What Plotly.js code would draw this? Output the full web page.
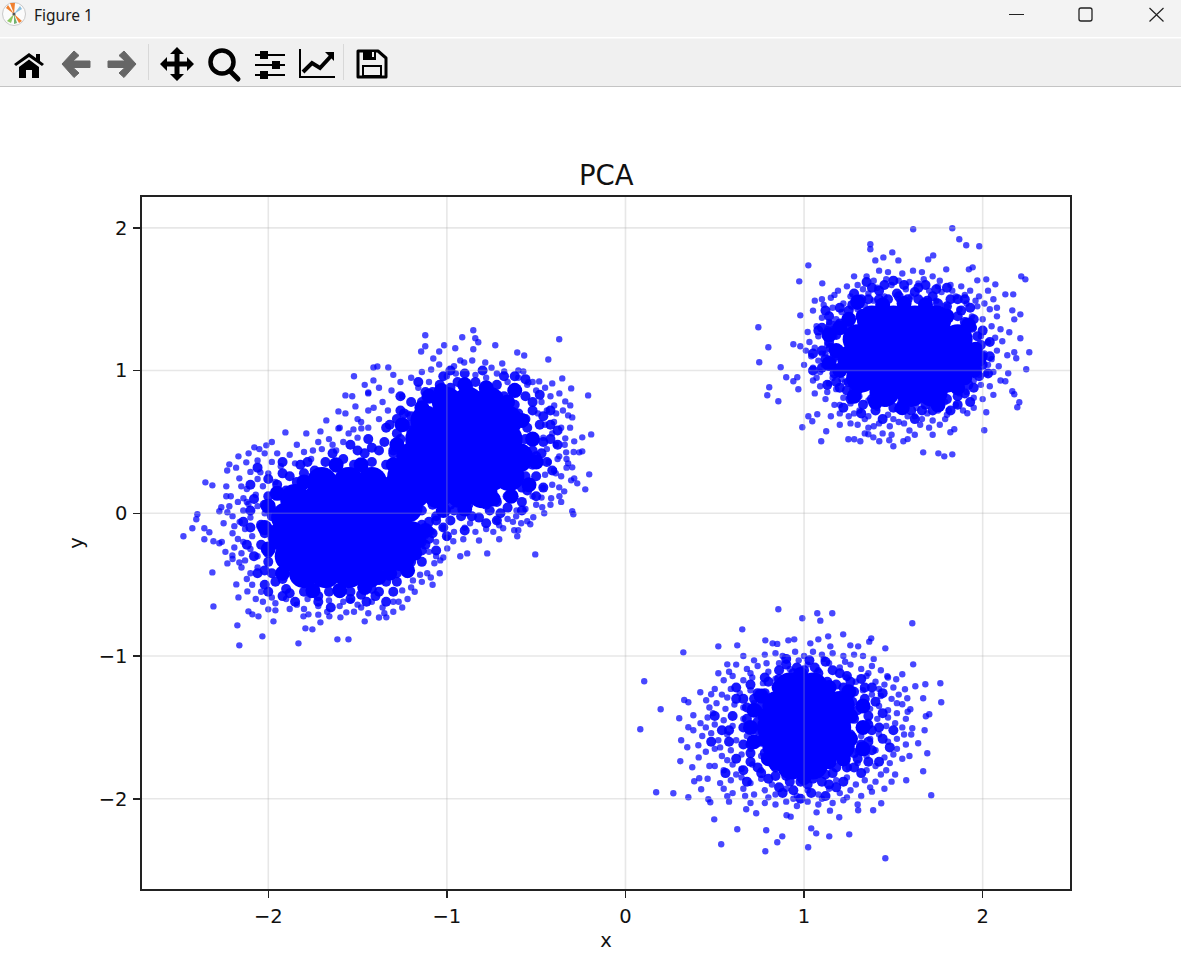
<!DOCTYPE html>
<html><head><meta charset="utf-8">
<script src="https://cdn.plot.ly/plotly-3.0.1.min.js"></script>
<style>
html,body{margin:0;padding:0;background:#fff;overflow:hidden}
#chart{position:absolute;left:0;top:0;width:1181px;height:980px}
#chrome{position:absolute;left:0;top:0;width:1181px;height:87px;z-index:5}
</style></head><body>
<div id="chart"></div>
<svg id="chrome" width="1181" height="87" viewBox="0 0 1181 87">
<rect x="0" y="0" width="1181" height="37" fill="#f3f3f3"/>
<rect x="0" y="37" width="1181" height="1.5" fill="#ffffff"/>
<rect x="0" y="38.5" width="1181" height="47.5" fill="#f0f0f0"/>
<rect x="0" y="86" width="1181" height="1" fill="#c4c4c4"/>
<circle cx="14" cy="14" r="11.5" fill="#fbfbfb" stroke="#c9c9c9"/>
<path d="M14 14L6 8L8 5ZM14 14L22 21L19 23ZM14 14L10 3L15 3Z" fill="#f08030"/><path d="M14 14L7 21L11 23Z" fill="#8cc860"/><path d="M14 14L22 9L20 6Z" fill="#8cc0e0"/><path d="M14 14L14 24L17 23Z" fill="#70b070"/><circle cx="14" cy="14" r="1.6" fill="#555"/>
<text x="34" y="21" font-family="Noto Sans, Open Sans, sans-serif" font-size="15.5" fill="#1a1a1a">Figure 1</text>
<path d="M1009 14.5H1024" stroke="#222" stroke-width="1"/>
<rect x="1079" y="8" width="13" height="13" rx="2" fill="none" stroke="#222" stroke-width="1.3"/>
<path d="M1149.5 8L1163.5 21.5M1163.5 8L1149.5 21.5" stroke="#222" stroke-width="1.2"/>
<path d="M14 64L29 53L36 58V54H40V61L44 64L42 66L29 57L16 66ZM19 67L29 59.5L39 67V78H32V70H26V78H19Z" fill="#000"/>
<path d="M62 64L74 51L79 55.5L73 61H90V67.5H73L79 73L74 77.5Z" fill="#666" stroke="#666" stroke-linejoin="round" stroke-width="1"/>
<path d="M136 64L124 51L119 55.5L125 61H108V67.5H125L119 73L124 77.5Z" fill="#666" stroke="#666" stroke-linejoin="round" stroke-width="1"/>
<rect x="148" y="44" width="1" height="36" fill="#d8d8d8"/>
<path d="M177 47L184 54H179.5V61.5H187V57L194 64L187 71V66.5H179.5V74H184L177 81L170 74H174.5V66.5H167V71L160 64L167 57V61.5H174.5V54H170Z" fill="#000"/>
<circle cx="222" cy="62" r="11.5" fill="none" stroke="#000" stroke-width="4.5"/><path d="M230 71L238 79" stroke="#000" stroke-width="5" stroke-linecap="round"/>
<path d="M255 55H285M255 65H285M255 75H285" stroke="#000" stroke-width="2"/><rect x="260" y="51" width="8" height="8" fill="#000"/><rect x="272" y="61" width="8" height="8" fill="#000"/><rect x="260" y="71" width="8" height="8" fill="#000"/>
<path d="M300 49V77H335" fill="none" stroke="#000" stroke-width="2"/><path d="M303 72L312 63L320 68L332 55" fill="none" stroke="#000" stroke-width="4"/><path d="M325 52H334V61Z" fill="#000"/>
<rect x="343" y="44" width="1" height="36" fill="#d8d8d8"/>
<path d="M360 51H378L386 58V77H358V51Z" fill="none" stroke="#000" stroke-width="3" stroke-linejoin="round"/><rect x="363" y="51" width="13" height="9" fill="#000"/><rect x="372" y="52" width="2" height="5" fill="#f0f0f0"/><rect x="363" y="66" width="18" height="10" fill="none" stroke="#000" stroke-width="2"/>
</svg>
<script>
var xTicks=[-2,-1,0,1,2];
var yTicks=[-2,-1,0,1,2];
var titleText="PCA";
var xLabel="x";
var yLabel="y";

var clusterTopRight=[[1.611,1.99],[1.83,1.997],[1.869,1.92],[1.908,1.878],[1.981,1.871],[1.371,1.885],[1.371,1.85],[1.494,1.828],[1.444,1.793],[1.399,1.772],[1.528,1.772],[1.723,1.807],[1.695,1.779],[1.024,1.737],[1.944,1.723],[1.923,1.709],[1.796,1.709],[2.216,1.66],[2.239,1.639],[.973,1.625],[1.102,1.611],[2.02,1.639],[1.97,1.632],[2.071,1.604],[2.127,1.534],[2.171,1.534],[.744,1.303],[.979,1.387],[2.211,1.394],[2.177,1.359],[2.166,1.422],[.8,1.163],[.94,1.184],[.979,1.17],[.749,1.058],[.869,1.023],[.9,.953],[.94,.925],[.962,.953],[.805,.883],[.794,.827],[.856,.785],[.968,.869],[2.211,1.226],[2.261,1.128],[2.177,1.128],[2.188,1.086],[2.244,1.009],[2.138,1.107],[2.149,1.268],[2.11,1.205],[2.143,.981],[2.127,.925],[2.166,.855],[2.177,.834],[2.205,.778],[2.194,.743],[2.02,.708],[2.009,.582],[1.914,.701],[1.841,.589],[1.819,.568],[.99,.603],[1.124,.575],[1.096,.505],[1.248,.519],[1.281,.519],[1.315,.505],[1.36,.554],[1.388,.532],[1.421,.505],[1.477,.512],[1.5,.47],[1.556,.505],[1.667,.427],[1.752,.42],[1.785,.399],[1.83,.413],[1.024,.68],[1.046,.645],[1.074,.694],
[1.06,1.49],[1.1,1.5],[1.15,1.51],[1.19,1.56],[1.24,1.59],[1.3,1.6],[1.28,1.66],[1.35,1.66],[1.42,1.7],[1.47,1.69],[1.55,1.68],[1.61,1.7],[1.66,1.69],[1.72,1.66],[1.76,1.63],[1.82,1.6],[1.88,1.59],[1.93,1.56],[1.98,1.52],[2.03,1.56],[2.06,1.5],[1.16,1.44],[1.22,1.47],[1.29,1.5],[1.36,1.54],[1.41,1.58],[1.49,1.6],[1.57,1.57],[1.64,1.61],[1.7,1.56],[1.77,1.55],[1.85,1.52],[1.91,1.47],[1.97,1.45],[2.04,1.43],[2.08,1.38],[1.05,1.42],[1.1,1.37],[1.07,1.31],[1.13,1.29],[1.18,1.36],[1.21,1.41],[1.26,1.35],[1.3,1.43],[1.34,1.46],[1.39,1.49],[1.45,1.52],[1.53,1.5],[1.6,1.52],[1.67,1.48],[1.74,1.49],[1.8,1.45],[1.87,1.43],[1.94,1.38],[2.0,1.36],[2.05,1.31],[2.1,1.29],[1.03,1.2],[1.06,1.16],[1.08,1.24],[1.13,1.18],[1.17,1.24],[1.21,1.29],[1.25,1.23],[1.95,1.3],[1.99,1.24],[2.03,1.2],[2.07,1.23],[1.92,1.22],[1.96,1.16],[2.01,1.12],[2.05,1.08],[1.04,1.1],[1.08,1.07],[1.12,1.12],[1.17,1.08],[1.2,1.15],[1.24,1.1],[1.0,1.04],[1.05,1.02],[1.09,.99],[1.14,1.02],[1.19,.98],[1.23,1.03],[1.93,1.07],[1.97,1.03],[2.02,.98],[2.06,.99],[1.9,.98],[1.95,.93],[1.99,.9],[2.04,.89],[1.05,.93],[1.09,.89],[1.14,.91],[1.18,.87],[1.23,.92],[1.27,.87],[1.86,.9],[1.91,.85],[1.95,.81],[2.0,.8],[1.12,.8],[1.17,.76],[1.22,.81],[1.26,.77],[1.31,.82],[1.36,.79],[1.41,.83],[1.47,.8],[1.52,.84],[1.58,.81],[1.63,.84],[1.68,.8],[1.74,.83],[1.79,.78],[1.85,.76],[1.89,.72],[1.2,.7],[1.25,.68],[1.31,.72],[1.36,.68],[1.41,.74],[1.47,.69],[1.52,.73],[1.58,.68],[1.63,.74],[1.69,.7],[1.75,.72],[1.8,.69],[1.3,.62],[1.36,.6],[1.42,.63],[1.48,.61],[1.53,.64],[1.59,.58],[1.65,.62],[1.7,.6],[1.76,.62],[1.2,.62],[1.15,.68],[1.44,.56],[1.58,.52],[1.72,.55],
[1.11,1.46],[1.17,1.53],[1.26,1.52],[1.33,1.57],[1.39,1.63],[1.46,1.64],[1.53,1.63],[1.59,1.62],[1.67,1.64],[1.75,1.59],[1.83,1.56],[1.9,1.53],[1.96,1.49],[2.01,1.47],[2.08,1.44],[1.14,1.34],[1.16,1.29],[1.02,1.27],[1.1,1.12],[1.01,1.14],[1.07,.95],[1.11,1.04],[1.16,.95],[1.21,.94],[1.98,.97],[2.03,1.04],[2.08,1.14],[2.09,1.03],[1.06,.84],[1.13,.85],[1.2,.76],[1.28,.7],[1.34,.66],[1.39,.61],[1.5,.66],[1.56,.63],[1.62,.68],[1.66,.66],[1.72,.65],[1.81,.72],[1.87,.84],[1.95,.74],[2.06,.83],[2.1,.93],[1.26,.63],[1.34,.56],[1.49,.55],[1.62,.55],[1.79,.66]];

var clusterBottomRight=[[.856,-.672],[.99,-.735],[1.074,-.7],[1.158,-.7],[1.091,-.752],[1.606,-.77],[.654,-.813],[.52,-.932],[.324,-.974],[.626,-.925],[.783,-.89],[.912,-.89],[.945,-.883],[1.08,-.883],[1.135,-.862],[1.219,-.848],[1.376,-.876],[1.365,-.899],[1.455,-.946],[1.303,-.932],[1.259,-.925],[1.147,-.932],[1.035,-.911],[.824,-.911],[.85,-.915],[.57,-1.058],[1.611,-1.058],[.105,-1.177],[.52,-1.12],[1.55,-1.128],[1.516,-1.163],[1.466,-1.142],[1.763,-1.191],[1.679,-1.198],[1.623,-1.212],[1.565,-1.233],[.419,-1.254],[.48,-1.268],[1.667,-1.296],[1.768,-1.324],[1.578,-1.296],[.329,-1.308],[.352,-1.324],[.197,-1.373],[.452,-1.31],[1.682,-1.422],[1.701,-1.408],[1.595,-1.373],[1.55,-1.338],[.301,-1.436],[.38,-1.415],[.083,-1.513],[.352,-1.499],[1.675,-1.52],[1.606,-1.506],[.312,-1.59],[.346,-1.639],[.408,-1.625],[1.639,-1.611],[1.69,-1.681],[.307,-1.737],[.374,-1.779],[1.667,-1.807],[1.572,-1.87],[.385,-1.877],[.413,-1.856],[.424,-1.933],[.172,-1.954],[.268,-1.961],[.352,-1.989],[.464,-2.003],[.475,-2.024],[1.712,-1.975],[1.432,-2.031],[.57,-1.982],[.676,-2.073],[.732,-2.101],[.497,-2.144],[.626,-2.213],[.788,-2.22],[1.04,-2.207],[1.068,-2.242],[1.141,-2.263],[1.253,-2.249],[1.197,-2.129],[.878,-2.263],[.85,-2.305],[.536,-2.319],[.783,-2.368],[1.023,-2.34],[1.455,-2.417],[1.387,-2.08],[1.303,-2.08],[1.145,-2.083],[1.07,-2.095],[.902,-2.115],[.925,-2.125],
[.66,-1.0],[.72,-1.03],[.78,-.99],[.84,-.98],[.88,-1.0],[.95,-.97],[1.0,-1.0],[1.05,-.97],[1.1,-.99],[1.16,-.98],[1.22,-1.0],[1.28,-.99],[1.33,-1.0],[1.39,-1.02],[.62,-1.06],[.68,-1.09],[.74,-1.07],[.8,-1.11],[.86,-1.05],[.92,-1.09],[1.02,-1.06],[1.08,-1.1],[1.14,-1.05],[1.2,-1.08],[1.26,-1.06],[1.32,-1.09],[1.38,-1.07],[1.43,-1.1],[.55,-1.17],[.6,-1.14],[.66,-1.17],[.71,-1.15],[.77,-1.19],[.84,-1.16],[1.24,-1.15],[1.29,-1.18],[1.35,-1.14],[1.4,-1.18],[1.45,-1.2],[1.5,-1.22],[.5,-1.23],[.54,-1.27],[.59,-1.23],[.64,-1.26],[.7,-1.24],[.76,-1.27],[1.27,-1.25],[1.33,-1.24],[1.38,-1.27],[1.43,-1.28],[1.49,-1.3],[1.53,-1.27],[.47,-1.36],[.51,-1.33],[.56,-1.37],[.61,-1.34],[.66,-1.36],[.72,-1.33],[1.33,-1.34],[1.37,-1.37],[1.42,-1.35],[1.47,-1.38],[1.52,-1.4],[1.57,-1.44],[.42,-1.47],[.46,-1.43],[.5,-1.48],[.55,-1.45],[.6,-1.49],[.66,-1.44],[.71,-1.48],[1.36,-1.46],[1.41,-1.44],[1.46,-1.49],[1.51,-1.47],[1.55,-1.5],[1.6,-1.55],[.43,-1.56],[.48,-1.54],[.52,-1.59],[.57,-1.55],[.62,-1.59],[.68,-1.56],[.74,-1.6],[1.32,-1.56],[1.37,-1.58],[1.42,-1.55],[1.47,-1.6],[1.52,-1.58],[1.57,-1.62],[.45,-1.67],[.5,-1.65],[.54,-1.7],[.59,-1.66],[.65,-1.69],[.7,-1.65],[.76,-1.7],[1.3,-1.67],[1.35,-1.7],[1.4,-1.66],[1.45,-1.71],[1.5,-1.69],[1.55,-1.72],[.5,-1.77],[.55,-1.8],[.6,-1.76],[.65,-1.79],[.71,-1.76],[.76,-1.8],[1.25,-1.78],[1.3,-1.75],[1.35,-1.8],[1.4,-1.77],[1.46,-1.8],[1.51,-1.83],[.46,-1.86],[.53,-1.89],[.59,-1.87],[.65,-1.85],[.7,-1.89],[.76,-1.86],[.82,-1.9],[1.18,-1.87],[1.24,-1.85],[1.29,-1.9],[1.34,-1.87],[1.4,-1.88],[1.45,-1.93],[.6,-1.96],[.66,-1.93],[.72,-1.97],[.78,-1.94],[.84,-1.97],[.9,-1.93],[.96,-1.98],[1.02,-1.94],[1.08,-1.97],[1.14,-1.93],[1.2,-1.96],[1.26,-1.94],[1.32,-1.98],[1.38,-1.95],[.58,-2.02],[.7,-2.03],[.78,-2.03],[.84,-2.04],[.9,-2.02],[.96,-2.05],[1.02,-2.02],[1.08,-2.04],[1.16,-2.03],[1.22,-2.01],[1.3,-2.04],
[.58,-1.11],[.7,-1.12],[.79,-1.05],[.97,-1.03],[1.11,-1.02],[1.23,-1.04],[1.36,-1.12],[1.47,-1.15],[1.42,-1.23],[1.52,-1.33],[1.58,-1.39],[1.47,-1.43],[1.56,-1.55],[1.52,-1.65],[1.59,-1.7],[1.48,-1.75],[1.43,-1.83],[1.49,-1.88],[1.37,-1.92],[1.24,-1.99],[1.1,-2.0],[.94,-2.0],[.8,-1.99],[.67,-1.98],[.55,-1.93],[.47,-1.77],[.41,-1.71],[.38,-1.52],[.45,-1.5],[.49,-1.4],[.57,-1.29],[.53,-1.64],[.57,-1.73],[.62,-1.83]];

var clusterLower=[[-2.475,-.161],[-2.425,-.105],[-2.397,-.007],[-2.403,-.042],[-2.358,-.105],[-2.358,-.182],[-2.33,-.133],[-2.352,.217],[-2.313,.196],[-2.218,.343],[-2.167,.399],[-2.235,.189],[-2.235,.119],[-2.263,.042],[-2.274,.014],[-2.218,.049],[-2.229,.007],[-2.123,.357],[-2.078,.462],[-2.011,.476],[-2.044,.287],[-2.162,.245],[-2.151,.189],[-2.139,.105],[-2.111,.065],[-2.307,-.196],[-2.274,-.21],[-2.313,-.414],[-2.229,-.351],[-2.162,-.344],[-2.201,-.295],[-2.307,-.652],[-2.179,-.498],[-2.167,-.589],[-2.117,-.547],[-2.111,-.687],[-2.089,-.708],[-2.055,-.722],[-2.0,-.673],[-1.96,-.68],[-1.971,-.757],[-2.173,-.785],[-2.033,-.862],[-2.162,-.925],[-1.831,-.911],[-1.792,-.806],[-1.753,-.813],[-1.708,-.764],[-1.613,-.883],[-1.551,-.883],[-1.658,-.722],[-1.596,-.729],[-1.563,-.694],[-1.46,-.757],[-1.339,-.729],[-1.803,-.722],[-1.775,-.708],[-1.904,.567],[-1.787,.56],[-1.708,.574],[-1.675,.651],[-1.607,.714],[-1.568,.826],[-1.512,.749],[-1.44,.847],[-1.411,1.022],[-1.389,1.029],[-1.328,1.022],[-1.411,.931],[-1.568,.7],[-1.607,.595],[-1.523,.588],[-1.479,.595],
[-2.11,.42],[-2.06,.37],[-2.02,.42],[-1.98,.36],[-1.95,.42],[-1.88,.41],[-1.85,.35],[-1.8,.43],[-1.76,.38],[-1.7,.45],[-1.64,.48],[-1.58,.5],[-1.5,.53],[-1.44,.6],[-1.38,.66],[-1.44,.72],[-1.36,.78],[-1.31,.86],[-1.5,.66],[-2.1,.29],[-2.06,.24],[-2.0,.28],[-1.96,.22],[-2.12,.17],[-2.07,.13],[-2.03,.19],[-2.2,-.02],[-2.16,-.06],[-2.14,.02],[-2.1,-.03],[-2.06,.05],[-2.02,.0],[-2.2,-.14],[-2.17,-.18],[-2.13,-.11],[-2.09,-.16],[-2.05,-.09],[-2.24,-.27],[-2.19,-.24],[-2.15,-.28],[-2.1,-.25],[-2.06,-.3],[-2.15,-.38],[-2.1,-.42],[-2.06,-.38],[-2.09,-.5],[-2.04,-.55],[-2.03,-.62],[-1.96,-.63],[-1.9,-.6],[-1.84,-.64],[-1.78,-.6],[-1.72,-.65],[-1.66,-.61],[-1.6,-.65],[-1.54,-.61],[-1.48,-.66],[-1.42,-.62],[-1.36,-.66],[-1.3,-.62],[-1.25,-.66],[-1.8,-.67],[-1.72,-.71],[-1.52,-.69],[-1.44,-.7],[-1.38,-.73],[-1.3,-.69],[-1.22,-.6],[-1.18,-.55],[-1.14,-.48],[-1.11,-.42],[-1.25,-.54],[-1.19,-.47],[-1.08,-.5],[-1.04,-.42],[-1.07,-.35],[-1.02,-.31],[-1.52,.96],[-1.46,.9],[-1.38,.88],[-1.3,.97],[-1.26,.92],[-1.25,.82],[-1.22,.7],[-1.18,.62],[-1.44,.84],[-1.53,.82],[-1.6,.6],[-1.66,.52],[-1.72,.5],[-1.84,.48],[-1.98,.5],
[-2.23,.3],[-2.18,.32],[-2.05,.45],[-1.93,.33],[-1.75,.44],[-1.62,.44],[-1.55,.56],[-1.48,.64],[-1.41,.74],[-1.33,.72],[-2.21,.12],[-2.17,.08],[-2.12,.08],[-2.25,-.07],[-2.19,-.09],[-2.14,-.2],[-2.26,-.2],[-2.2,-.32],[-2.13,-.33],[-2.12,-.46],[-2.07,-.6],[-1.98,-.59],[-1.88,-.67],[-1.67,-.69],[-1.58,-.62],[-1.5,-.64],[-1.35,-.7],[-1.27,-.62],[-1.2,-.52],[-1.15,-.43],[-1.09,-.45]];

var clusterUpper=[[-.852,1.282],[-1.121,1.247],[-.914,1.233],[-.841,1.226],[-.371,1.219],[-.824,1.198],[-.729,1.177],[-1.015,1.177],[-1.121,1.17],[-.953,1.156],[-1.144,1.134],[-.852,1.149],[-1.043,1.134],[-.606,1.127],[-.567,1.106],[-1.076,1.085],[-.432,1.078],[-.925,1.071],[-.903,1.057],[-.858,1.071],[-.785,1.057],[-.69,1.05],[-1.043,1.043],[-1.088,1.008],[-.572,.994],[-.679,.994],[-.354,.945],[-.483,.924],[-.544,.917],[-.304,.875],[-.209,.826],[-.337,.784],[-.309,.756],[-.399,.756],[-.321,.686],[-.298,.672],[-.388,.7],[-.192,.553],[-.242,.532],[-.287,.504],[-.337,.525],[-.332,.427],[-.259,.427],[-.242,.434],[-.371,.399],[-.203,.273],[-.298,.322],[-.321,.35],[-.287,.245],[-.304,.231],[-.27,.21],[-.225,.168],[-.343,.154],[-.416,.105],[-.371,.182],[-.466,.042],[-.455,.0],[-.298,.014],[-.292,-.007],[-.516,-.028],[-.55,-.056],[-.584,-.07],[-.533,-.077],[-.612,-.021],[-.685,-.105],[-.707,-.084],[-.623,-.119],[-.6,-.119],[-.606,-.161],[-.707,-.182],[-.908,-.182],[-.964,-.196],[-.998,-.246],[-.886,-.281],[-.774,-.281],[-.925,-.301],[-.505,-.288],[-1.037,-.33],
[-1.0,.96],[-.95,.98],[-.9,.93],[-.84,.97],[-.78,.95],[-.72,.98],[-.66,.92],[-.6,.95],[-.55,.9],[-.5,.86],[-.45,.88],[-1.1,.92],[-.47,.78],[-.42,.82],[-.44,.72],[-.49,.7],[-.4,.64],[-.45,.62],[-.36,.6],[-.41,.56],[-.46,.53],[-.34,.48],[-.39,.48],[-.44,.45],[-.38,.38],[-.43,.36],[-.4,.3],[-.45,.27],[-.36,.26],[-.41,.2],[-.46,.18],[-.47,.11],[-.52,.12],[-.56,.03],[-.61,.02],[-.66,-.04],[-.72,-.05],[-.78,-.11],[-.84,-.13],[-.9,-.1],[-.96,-.13],[-1.02,-.1],[-1.08,-.13],[-1.0,-.17],[-1.06,-.2],[-1.12,-.16],[-1.16,-.23],[-1.1,-.27],[-1.06,-.3],[-1.18,-.11],
[-.35,.72],[-.31,.6],[-.29,.43],[-.33,.32],[-.37,.12],[-.42,.06],[-.5,.06],[-.63,-.06],[-.74,-.13],[-.82,-.19],[-.87,-.07],[-.52,.92],[-.41,.91],[-.6,1.0],[-.75,1.02],[-.96,1.03],[-1.14,.99],[-1.2,.95],[-1.16,.88],[-.37,.84],[-.33,.38],[-.39,.28],[-.36,.08]];

var denseCores=[[1.38,1.35],[1.5,1.35],[1.62,1.35],[1.74,1.35],[1.3,1.22],[1.42,1.22],[1.54,1.22],[1.66,1.22],[1.78,1.22],[1.86,1.22],[1.27,1.08],[1.4,1.08],[1.52,1.08],[1.64,1.08],[1.76,1.08],[1.87,1.08],[1.32,.95],[1.44,.95],[1.56,.95],[1.68,.95],[1.8,.95],[1.45,.85],[1.6,.85],[1.72,.85],
[.92,-1.22],[1.05,-1.22],[.85,-1.35],[.97,-1.35],[1.1,-1.35],[1.2,-1.35],[.82,-1.5],[.94,-1.5],[1.06,-1.5],[1.18,-1.5],[.85,-1.63],[.97,-1.63],[1.1,-1.63],[1.2,-1.63],[.93,-1.76],[1.05,-1.76],
[-1.85,.1],[-1.72,.1],[-1.6,.1],[-1.48,.1],[-1.36,.1],[-1.9,-.03],[-1.78,-.03],[-1.65,-.03],[-1.52,-.03],[-1.4,-.03],[-1.28,-.03],[-1.92,-.16],[-1.8,-.16],[-1.67,-.16],[-1.55,-.16],[-1.42,-.16],[-1.3,-.16],[-1.2,-.16],[-1.88,-.3],[-1.75,-.3],[-1.62,-.3],[-1.5,-.3],[-1.38,-.3],[-1.26,-.3],[-1.8,-.42],[-1.68,-.42],[-1.55,-.42],[-1.44,-.42],[-1.7,.22],[-1.55,.22],[-1.42,.22],
[-1.0,.78],[-.88,.78],[-.76,.78],[-1.12,.65],[-1.0,.65],[-.88,.65],[-.76,.65],[-.66,.65],[-1.15,.52],[-1.03,.52],[-.9,.52],[-.78,.52],[-.66,.52],[-1.2,.39],[-1.08,.39],[-.95,.39],[-.83,.39],[-.7,.39],[-.6,.39],[-1.25,.26],[-1.12,.26],[-1.0,.26],[-.88,.26],[-.75,.26],[-.65,.26],[-1.18,.14],[-1.05,.14],[-.92,.14],[-.8,.14],[-1.3,.16],[-1.22,.04]];

var denseCrevices=[[.78,-1.42],[.78,-1.58],[.86,-1.22],[.84,-1.75],[1.14,-1.74],[1.26,-1.42],[1.26,-1.58],[1.14,-1.22],[1.25,-1.25],[.76,-1.28],[.8,-1.72],[1.22,-1.72],[.98,-1.13],[1.0,-1.85],[.7,-1.5],[.72,-1.6],[.72,-1.38],[1.33,-1.5],[1.33,-1.35],[1.33,-1.65],
[1.2,1.3],[1.2,1.0],[1.28,.82],[1.33,1.38],[1.25,1.36],[1.44,1.46],[1.56,1.47],[1.68,1.46],[1.8,1.38],[1.92,1.32],[1.96,1.15],[1.95,1.0],[1.86,.88],[1.75,.76],[1.55,.74],[1.4,.78],[1.18,1.14],[1.14,1.05],[1.14,1.25],[1.98,1.08],[1.3,1.48],[1.9,.95],
[-2.0,.05],[-2.02,-.1],[-2.0,-.25],[-1.92,-.42],[-1.75,-.54],[-1.6,-.54],[-1.46,-.52],[-1.32,-.42],[-1.18,-.28],[-1.12,-.12],[-1.8,.22],[-1.62,.34],[-1.48,.34],[-1.3,.34],[-1.95,.14],[-1.38,-.45],[-1.22,-.4],
[-1.25,.62],[-1.14,.74],[-1.03,.86],[-.9,.9],[-.78,.88],[-.66,.78],[-.58,.65],[-.52,.52],[-.5,.36],[-.54,.2],[-.64,.12],[-.74,.1],[-.9,.03],[-1.02,.02],[-1.28,.48],[-.62,.86],[-1.1,.82]];

var densePatches=[[1.1,1.3],[1.14,1.2],[1.12,1.08],[1.17,.98],[1.2,.88],[1.14,1.38],[1.2,1.44],[1.24,1.32],[1.2,1.14],[1.26,.8],[1.33,.76],[1.4,.72],[1.5,.74],[1.6,.72],[1.68,.76],[1.76,.78],[1.86,.82],[1.92,.9],[1.97,1.0],[2.0,1.1],[1.96,1.16],[2.0,1.28],[1.95,1.36],[1.88,1.42],[1.82,1.5],[1.72,1.52],[1.62,1.55],[1.52,1.54],[1.42,1.56],[1.32,1.5],[1.27,1.46],[1.35,1.62],[1.5,1.63],[1.68,1.6],[1.8,1.58],[1.9,1.5],[1.05,1.0],[1.25,.92],[1.93,.78],
[.7,-1.2],[.78,-1.15],[.86,-1.1],[.96,-1.08],[1.06,-1.08],[1.16,-1.1],[1.24,-1.14],[1.32,-1.16],[1.38,-1.22],[1.34,-1.3],[1.3,-1.38],[1.36,-1.42],[1.32,-1.5],[1.38,-1.52],[1.32,-1.62],[1.38,-1.66],[1.3,-1.72],[1.24,-1.78],[1.32,-1.82],[1.16,-1.82],[1.1,-1.88],[1.18,-1.92],[1.02,-1.9],[.92,-1.88],[.84,-1.84],[.76,-1.82],[.7,-1.74],[.78,-1.68],[.7,-1.62],[.74,-1.52],[.68,-1.44],[.74,-1.38],[.66,-1.3],[.74,-1.26],[.6,-1.42],[.58,-1.6],[.62,-1.72],[.56,-1.82],[.68,-1.88],[.62,-1.22],[.54,-1.52],[1.44,-1.4],[1.44,-1.58],[1.42,-1.74],[1.44,-1.26],[.98,-2.0],[.88,-1.96],[1.12,-1.98],[.9,-1.02],[1.12,-1.04],
[-2.0,.12],[-1.98,-.02],[-2.02,-.14],[-2.0,-.28],[-2.02,-.4],[-1.96,-.48],[-1.9,-.53],[-1.8,-.55],[-1.72,-.58],[-1.6,-.56],[-1.48,-.57],[-1.38,-.55],[-1.28,-.48],[-1.22,-.42],[-1.14,-.34],[-1.12,-.22],[-1.95,.2],[-1.88,.26],[-1.8,.28],[-1.68,.36],[-1.58,.38],[-1.5,.44],[-1.42,.46],[-1.35,.5],[-1.3,.44],[-2.08,.1],[-2.1,-.1],[-2.08,-.3],[-2.0,-.55],[-1.85,-.62],[-1.65,-.66],[-1.45,-.62],[-1.92,.36],[-2.06,.32],[-1.34,.6],[-1.28,.66],[-1.2,.68],[-1.34,-.62],[-1.08,-.14],
[-1.12,.85],[-1.04,.9],[-.94,.92],[-.84,.92],[-.72,.9],[-.62,.88],[-.56,.82],[-.52,.72],[-.48,.62],[-.55,.6],[-.46,.5],[-.5,.4],[-.44,.36],[-.5,.26],[-.46,.18],[-.55,.16],[-.58,.08],[-.66,.04],[-.76,.02],[-.86,-.02],[-.96,.02],[-1.06,-.02],[-1.02,-.1],[-.9,-.12],[-1.1,-.12],[-.42,.62],[-.38,.48],[-.62,.96],[-.48,.83],[-.8,1.0],[-.98,1.0],[-1.2,.78],[-1.26,.72],[-.72,-.05]];

var denseEdges=[[1.25,1.42],[1.3,1.46],[1.36,1.5],[1.42,1.5],[1.47,1.5],[1.53,1.52],[1.58,1.5],[1.64,1.5],[1.69,1.49],[1.75,1.47],[1.8,1.45],[1.86,1.38],[1.9,1.34],[1.94,1.3],[1.28,1.54],[1.38,1.58],[1.45,1.6],[1.56,1.6],[1.64,1.58],[1.74,1.57],[1.86,1.5],[1.93,1.44],[1.97,1.24],[1.99,1.18],[2.0,1.04],[1.98,.96],[1.95,.88],[1.9,.84],[2.04,1.2],[2.04,1.1],[2.03,.98],[1.86,.76],[1.8,.8],[1.72,.72],[1.66,.72],[1.55,.78],[1.46,.78],[1.38,.8],[1.3,.86],[1.24,.86],[1.82,.72],[1.62,.66],[1.44,.66],[1.32,.7],[1.22,.74],[1.18,.92],[1.2,1.02],[1.17,1.1],[1.15,1.16],[1.18,1.25],[1.2,1.33],[1.15,1.32],[1.12,1.42],[1.1,1.14],[1.1,1.02],[1.13,.9],[1.05,1.12],[1.08,1.28],
[.8,-1.18],[.86,-1.16],[.94,-1.12],[1.0,-1.1],[1.08,-1.12],[1.13,-1.18],[1.18,-1.2],[1.22,-1.22],[1.28,-1.25],[1.27,-1.32],[1.28,-1.44],[1.26,-1.55],[1.28,-1.68],[1.22,-1.74],[1.18,-1.78],[1.12,-1.83],[1.05,-1.86],[.98,-1.88],[.9,-1.84],[.84,-1.78],[.8,-1.72],[.76,-1.6],[.74,-1.46],[.76,-1.35],[.78,-1.26],[.72,-1.3],[.68,-1.36],[.66,-1.5],[.66,-1.62],[.7,-1.68],[.74,-1.78],[.8,-1.86],[.86,-1.92],[.94,-1.94],[1.04,-1.96],[1.14,-1.9],[1.22,-1.88],[1.28,-1.78],[1.36,-1.74],[1.36,-1.6],[1.42,-1.5],[1.36,-1.48],[1.4,-1.32],[1.34,-1.22],[1.26,-1.18],[.62,-1.3],[.58,-1.52],[.66,-1.8],[.9,-1.06],[1.03,-1.03],[1.2,-1.12],[.5,-1.42],[.48,-1.6],[1.5,-1.52],[1.48,-1.64],
[-2.02,.06],[-2.04,-.08],[-2.04,-.22],[-2.0,-.34],[-1.98,-.42],[-1.92,-.46],[-1.88,-.56],[-1.76,-.56],[-1.66,-.55],[-1.54,-.55],[-1.42,-.53],[-1.34,-.48],[-1.28,-.42],[-1.2,-.34],[-1.14,-.26],[-1.1,-.18],[-1.9,.16],[-1.84,.22],[-1.74,.3],[-1.62,.32],[-1.52,.34],[-1.42,.36],[-1.34,.34],[-1.92,.28],[-2.1,.2],[-2.1,.02],[-2.14,-.06],[-2.12,-.22],[-2.06,-.42],[-2.02,-.5],[-1.92,-.58],[-1.72,-.62],[-1.54,-.6],[-1.4,-.58],[-1.3,-.55],[-1.78,.36],[-1.64,.42],[-1.54,.48],[-1.44,.52],[-1.38,.44],[-1.46,.42],[-1.28,.56],[-1.2,.58],[-1.06,-.26],[-1.14,-.08],[-1.06,-.05],[-2.0,.24],[-1.82,.34],
[-1.22,.62],[-1.26,.52],[-1.3,.42],[-1.24,.7],[-1.14,.78],[-1.08,.85],[-.98,.88],[-.88,.88],[-.78,.88],[-.68,.82],[-.62,.76],[-.6,.7],[-.56,.66],[-.56,.52],[-.52,.44],[-.52,.34],[-.56,.26],[-.58,.18],[-.66,.12],[-.72,.08],[-.78,.06],[-.88,.06],[-.98,.06],[-1.08,.06],[-1.14,.02],[-1.1,-.06],[-.98,-.05],[-.92,-.02],[-.82,-.03],[-.52,.78],[-.46,.68],[-.47,.42],[-.42,.52],[-.41,.3],[-.5,.12],[-.58,.02],[-.7,.0],[-.68,.96],[-.56,.94],[-.9,.98],[-1.02,.96],[-1.16,.92],[-1.26,.82],[-1.32,.62],[-.78,-.07],[-1.0,-.16],[-1.16,-.14],[-1.14,-.2],[-.42,.72],[-.38,.58]];

var grey="rgba(176,176,176,0.3)";
var gridShapes=xTicks.map(function(v){return {type:"line",xref:"x",yref:"paper",x0:v,x1:v,y0:0,y1:1,layer:"above",line:{color:grey,width:1.6}};})
 .concat(yTicks.map(function(v){return {type:"line",xref:"paper",yref:"y",y0:v,y1:v,x0:0,x1:1,layer:"above",line:{color:grey,width:1.6}};}));

var pts=clusterTopRight.concat(clusterBottomRight,clusterLower,clusterUpper);
function xs(a){return a.map(function(p){return p[0];});}
function ys(a){return a.map(function(p){return p[1];});}
var traces=[
 {type:"scatter",mode:"markers",name:"core",x:xs(denseCores),y:ys(denseCores),marker:{color:"#0000ff",size:30,line:{width:0}},hoverinfo:"skip"},
 {type:"scatter",mode:"markers",name:"crevices",x:xs(denseCrevices),y:ys(denseCrevices),marker:{color:"#0000ff",size:15,line:{width:0}},hoverinfo:"skip"},
 {type:"scatter",mode:"markers",name:"patches",x:xs(densePatches),y:ys(densePatches),marker:{color:"#0000ff",size:10,opacity:0.9,line:{width:0}},hoverinfo:"skip"},
 {type:"scatter",mode:"markers",name:"edges",x:xs(denseEdges),y:ys(denseEdges),marker:{color:"#0000ff",size:10,opacity:0.9,line:{width:0}},hoverinfo:"skip"},
 {type:"scatter",mode:"markers",name:"points",x:xs(pts),y:ys(pts),marker:{color:"#0000ff",size:6.4,opacity:0.72,line:{width:0}}}
];
var axisCommon={showgrid:false,zeroline:false,showline:true,mirror:true,linecolor:"#222",linewidth:1.6,ticks:"outside",ticklen:7,tickwidth:1.5,tickcolor:"#222",tickmode:"array",ticklabelstandoff:2,tickfont:{family:"DejaVu Sans",size:19.5,color:"#111"}};
var layout={
 width:1181,height:980,paper_bgcolor:"#fff",plot_bgcolor:"#fff",showlegend:false,hovermode:"closest",
 margin:{l:142,r:111,t:197,b:91,pad:0},
 title:{text:titleText,font:{family:"DejaVu Sans",size:27.5,color:"#111"},x:0.5134,xanchor:"center",y:0.8215,yanchor:"middle"},
 xaxis:Object.assign({},axisCommon,{range:[-2.707,2.489],tickvals:xTicks,ticktext:xTicks.map(function(v){return v<0?"\u2212"+(-v):""+v;}),title:{text:xLabel,font:{family:"DejaVu Sans",size:19.5,color:"#111"},standoff:6}}),
 yaxis:Object.assign({},axisCommon,{range:[-2.632,2.216],tickvals:yTicks,ticktext:yTicks.map(function(v){return v<0?"\u2212"+(-v):""+v;}),title:{text:yLabel,font:{family:"DejaVu Sans",size:19.5,color:"#111"},standoff:10}}),
 shapes:gridShapes
};
Plotly.newPlot("chart",traces,layout,{displayModeBar:false,staticPlot:true});
</script>
</body></html>
